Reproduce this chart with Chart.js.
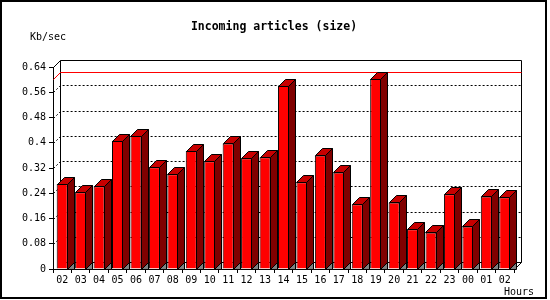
<!DOCTYPE html>
<html lang="en">
<head>
    <meta charset="UTF-8">
    <title>Incoming articles (size)</title>
    <script src="https://cdn.jsdelivr.net/npm/chart.js"></script>
    <style>
        html, body { margin: 0; padding: 0; background: #fff; }
        canvas { display: block; }
    </style>
</head>
<body>
<canvas id="chart" width="550" height="300"></canvas>
<script>
const hours = ['02','03','04','05','06','07','08','09','10','11','12','13','14',
               '15','16','17','18','19','20','21','22','23','00','01','02'];
const kbPerSec = [0.269, 0.243, 0.262, 0.406, 0.421, 0.322, 0.300, 0.374, 0.341, 0.398,
                  0.351, 0.354, 0.580, 0.275, 0.360, 0.306, 0.205, 0.602, 0.211, 0.126,
                  0.116, 0.237, 0.135, 0.230, 0.227];
const yTicks = [0, 0.08, 0.16, 0.24, 0.32, 0.4, 0.48, 0.56, 0.64];

const depth = 7;
const monoFont = '"DejaVu Sans Mono", monospace';

// back wall, dotted grid and max line, drawn behind the bars
const backWall = {
    id: 'backWall',
    beforeDatasetsDraw(chart) {
        const ctx = chart.ctx;
        const a = chart.chartArea;
        const y = chart.scales.y;
        const L = Math.round(a.left) + 0.5, R = Math.round(a.right) + 0.5;
        const T = Math.round(a.top) + 0.5, B = Math.round(a.bottom) + 0.5;
        ctx.save();
        ctx.lineWidth = 1;
        ctx.strokeStyle = '#000';
        ctx.setLineDash([2, 2]);
        yTicks.forEach(v => {
            if (v === 0 || v === yTicks[yTicks.length - 1]) return;
            const py = Math.round(y.getPixelForValue(v)) + 0.5;
            ctx.beginPath();
            ctx.moveTo(L, py);
            ctx.lineTo(L + depth, py - depth);
            ctx.lineTo(R + depth, py - depth);
            ctx.stroke();
        });
        ctx.setLineDash([]);
        ctx.beginPath();
        ctx.moveTo(L, T);
        ctx.lineTo(L + depth, T - depth);
        ctx.lineTo(R + depth, T - depth);
        ctx.lineTo(R + depth, B - depth);
        ctx.lineTo(R, B);
        ctx.moveTo(L + depth, T - depth);
        ctx.lineTo(L + depth, B - depth);
        ctx.lineTo(R + depth, B - depth);
        ctx.stroke();

        const my = Math.round(y.getPixelForValue(Math.max(...kbPerSec))) + 0.5;
        ctx.strokeStyle = '#ff0000';
        ctx.beginPath();
        ctx.moveTo(L, my);
        ctx.lineTo(L + depth, my - depth);
        ctx.lineTo(R + depth, my - depth);
        ctx.stroke();
        ctx.restore();
    }
};

// top and side faces of every bar, from the bar elements
const bars3d = {
    id: 'bars3d',
    afterDatasetsDraw(chart) {
        const ctx = chart.ctx;
        ctx.save();
        ctx.lineWidth = 1;
        ctx.strokeStyle = '#000';
        chart.getDatasetMeta(0).data.forEach(bar => {
            const l = Math.round(bar.x - bar.width / 2) + 0.5;
            const r = Math.round(bar.x + bar.width / 2) - 0.5;
            const t = Math.round(bar.y) + 0.5;
            const b = Math.round(bar.base) + 0.5;

            ctx.fillStyle = '#808080';
            ctx.beginPath();
            ctx.moveTo(r, b);
            ctx.lineTo(r + depth, b - depth);
            ctx.lineTo(r + depth, b);
            ctx.closePath();
            ctx.fill();
            ctx.stroke();

            ctx.fillStyle = '#800000';
            ctx.beginPath();
            ctx.moveTo(r, t);
            ctx.lineTo(r + depth, t - depth);
            ctx.lineTo(r + depth, b - depth);
            ctx.lineTo(r, b);
            ctx.closePath();
            ctx.fill();
            ctx.stroke();

            ctx.fillStyle = '#c80000';
            ctx.beginPath();
            ctx.moveTo(l, t);
            ctx.lineTo(l + depth, t - depth);
            ctx.lineTo(r + depth, t - depth);
            ctx.lineTo(r, t);
            ctx.closePath();
            ctx.fill();
            ctx.stroke();
        });
        ctx.restore();
    }
};

const labelsAndFrame = {
    id: 'labelsAndFrame',
    afterDraw(chart) {
        const ctx = chart.ctx;
        ctx.save();
        ctx.fillStyle = '#000';
        ctx.textBaseline = 'middle';
        ctx.textAlign = 'center';
        ctx.font = 'bold 11.5px ' + monoFont;
        ctx.fillText('Incoming articles (size)', 274, 27);
        ctx.font = '10px ' + monoFont;
        ctx.fillText('Kb/sec', 48, 37);
        ctx.fillText('Hours', 519, 292);
        ctx.strokeStyle = '#000';
        ctx.lineWidth = 2;
        ctx.strokeRect(1, 1, 545, 297);
        ctx.restore();
    }
};

new Chart(document.getElementById('chart'), {
    type: 'bar',
    data: {
        labels: hours,
        datasets: [{
            label: 'Kb/sec',
            data: kbPerSec,
            backgroundColor: '#ff0000',
            borderColor: '#000',
            borderWidth: 1,
            categoryPercentage: 1,
            barPercentage: 0.6
        }]
    },
    options: {
        responsive: false,
        animation: false,
        devicePixelRatio: 1,
        layout: { padding: { left: 0, top: 67, right: 36, bottom: 0 } },
        plugins: {
            legend: { display: false },
            tooltip: { enabled: false }
        },
        scales: {
            y: {
                min: 0,
                max: 0.64,
                afterBuildTicks: s => { s.ticks = yTicks.map(v => ({ value: v })); },
                afterFit: s => { s.width = 53; },
                ticks: {
                    callback: v => String(v),
                    color: '#000',
                    font: { family: monoFont, size: 10 },
                    padding: 3
                },
                grid: { drawOnChartArea: false, drawTicks: true, tickLength: 4, color: '#000' },
                border: { display: true, color: '#000' }
            },
            x: {
                afterFit: s => { s.height = 31; },
                ticks: {
                    color: '#000',
                    font: { family: monoFont, size: 10 },
                    padding: 1,
                    maxRotation: 0,
                    autoSkip: false
                },
                grid: { offset: true, drawOnChartArea: false, drawTicks: true, tickLength: 4, color: '#000' },
                border: { display: true, color: '#000' }
            }
        }
    },
    plugins: [backWall, bars3d, labelsAndFrame]
});
</script>
</body>
</html>
